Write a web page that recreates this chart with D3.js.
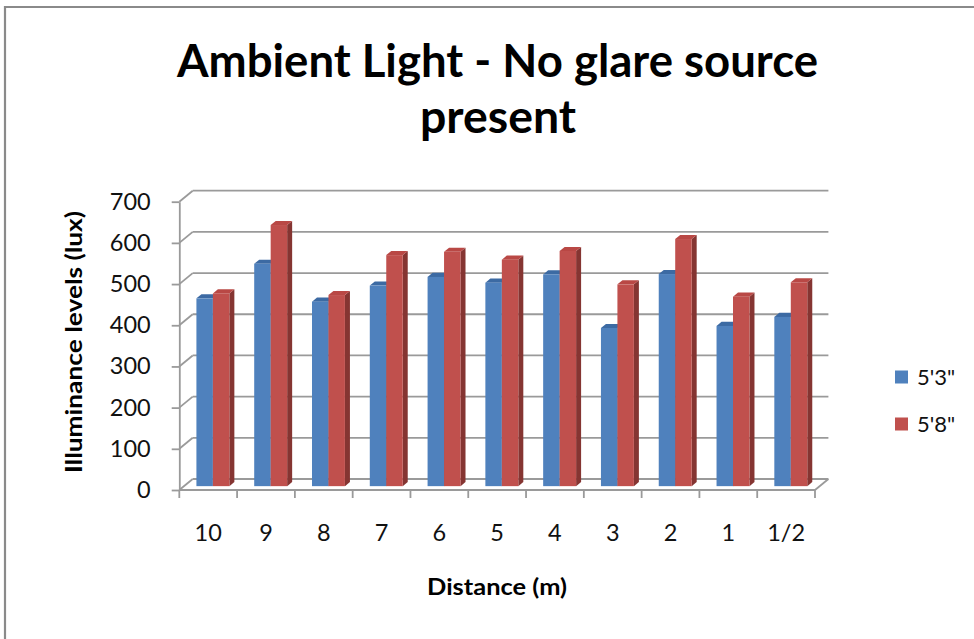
<!DOCTYPE html>
<html>
<head>
<meta charset="utf-8">
<script src="https://cdn.jsdelivr.net/npm/d3@7"></script>
<style>
  html, body { margin: 0; padding: 0; background: #fff; }
  svg { display: block; }
</style>
</head>
<body>
<svg id="chart" width="974" height="639"></svg>
<script>
// ---- data ----
const categories = ["10", "9", "8", "7", "6", "5", "4", "3", "2", "1", "1/2"];
const seriesNames = ["5'3\"", "5'8\""];
const values53 = [456, 540, 448, 487, 508, 494, 514, 384, 515, 389, 411];
const values58 = [468, 634, 464, 561, 569, 550, 571, 490, 600, 460, 495];
const yTicks = [0, 100, 200, 300, 400, 500, 600, 700];
const titleLines = ["Ambient Light - No glare source", "present"];
const yTitle = "Illuminance levels (lux)";
const xTitle = "Distance (m)";
const colors = {
  "5'3\"": { front: "#4F81BD", top: "#3C6AA3", side: "#2F5482" },
  "5'8\"": { front: "#C0504D", top: "#B94845", side: "#853532" }
};

// ---- layout ----
const svg = d3.select("#chart");
const left = 179.3, right = 815, base = 490, topY = 201.7;
const D = { x: 13.4, y: -11 };          // depth vector front->back wall
const f = 0.35;                          // bar front face depth fraction
const B = { x: 5, y: -4.1 };             // bar depth
const font = "Lato, 'Open Sans', sans-serif";
const grid = "#9a9a9a";

const x = d3.scaleBand().domain(categories).range([left, right]).paddingInner(0).paddingOuter(0);
const bw = x.bandwidth();
const xs = d3.scaleBand().domain(seriesNames).range([bw * 0.215, bw * 0.785]);
const y = d3.scaleLinear().domain([0, 700]).range([base, topY]);

// frame
svg.append("path").attr("d", "M5,639 L5,7 L974,7")
  .attr("fill", "none").attr("stroke", "#8a8a8a").attr("stroke-width", 2.2);

// back wall gridlines + left wall diagonals
const g = svg.append("g");
yTicks.forEach(v => {
  g.append("line").attr("x1", left + D.x).attr("x2", right + D.x)
    .attr("y1", y(v) + D.y).attr("y2", y(v) + D.y)
    .attr("stroke", grid).attr("stroke-width", 1.8);
  g.append("line").attr("x1", left).attr("x2", left + D.x)
    .attr("y1", y(v)).attr("y2", y(v) + D.y)
    .attr("stroke", grid).attr("stroke-width", 1.8);
});
// floor front edge & right diagonal
g.append("line").attr("x1", left).attr("x2", right).attr("y1", base).attr("y2", base)
  .attr("stroke", grid).attr("stroke-width", 1.8);
g.append("line").attr("x1", right).attr("x2", right + D.x).attr("y1", base).attr("y2", base + D.y)
  .attr("stroke", grid).attr("stroke-width", 1.8);

// y axis (front vertical line + ticks + labels)
const yAxis = d3.axisLeft(y).tickValues(yTicks).tickSize(7.6).tickSizeOuter(0).tickPadding(21);
const ya = svg.append("g").attr("transform", `translate(${left},0)`).call(yAxis);
ya.selectAll("path, line").attr("stroke", grid).attr("stroke-width", 1.8);
ya.selectAll("text").attr("font-family", font).attr("font-size", 23.5).attr("fill", "#111");

// x axis ticks at band boundaries
const bounds = categories.map(c => x(c)).concat([right]);
bounds.forEach(bx => {
  svg.append("line").attr("x1", bx).attr("x2", bx).attr("y1", base).attr("y2", base + 8)
    .attr("stroke", grid).attr("stroke-width", 1.8);
});
categories.forEach(c => {
  svg.append("text").attr("x", x(c) + bw / 2).attr("y", 533).attr("dy", "0.35em")
    .attr("text-anchor", "middle").attr("font-family", font).attr("font-size", 23.5)
    .attr("fill", "#111").text(c);
});

// bars
const rows = categories.map((c, i) => ({ cat: c, vals: [values53[i], values58[i]] }));
const barG = svg.append("g");
rows.forEach(r => {
  r.vals.forEach((v, si) => {
    const s = seriesNames[si];
    const w = xs.bandwidth();
    const x0 = x(r.cat) + xs(s) + f * D.x;
    const yt = y(v) + f * D.y;
    const yb = y(0) + f * D.y;
    const col = colors[s];
    barG.append("polygon")
      .attr("points", [[x0 + w, yt], [x0 + w + B.x, yt + B.y], [x0 + w + B.x, yb + B.y], [x0 + w, yb]].join(" "))
      .attr("fill", col.side);
    barG.append("polygon")
      .attr("points", [[x0, yt], [x0 + B.x, yt + B.y], [x0 + w + B.x, yt + B.y], [x0 + w, yt]].join(" "))
      .attr("fill", col.top);
    barG.append("rect").attr("x", x0).attr("y", yt).attr("width", w).attr("height", yb - yt)
      .attr("fill", col.front);
  });
});

// title
svg.append("text").attr("x", 497.5).attr("y", 77).attr("text-anchor", "middle")
  .attr("font-family", font).attr("font-weight", "bold").attr("font-size", 45)
  .attr("textLength", 641).attr("lengthAdjust", "spacingAndGlyphs")
  .attr("fill", "#000").text(titleLines[0]);
svg.append("text").attr("x", 498).attr("y", 133).attr("text-anchor", "middle")
  .attr("font-family", font).attr("font-weight", "bold").attr("font-size", 45)
  .attr("textLength", 156).attr("lengthAdjust", "spacingAndGlyphs")
  .attr("fill", "#000").text(titleLines[1]);

// axis titles
svg.append("text").attr("transform", "translate(82,342) rotate(-90)").attr("text-anchor", "middle")
  .attr("font-family", font).attr("font-weight", "bold").attr("font-size", 23)
  .attr("textLength", 262).attr("lengthAdjust", "spacingAndGlyphs")
  .attr("fill", "#000").text(yTitle);
svg.append("text").attr("x", 497).attr("y", 595).attr("text-anchor", "middle")
  .attr("font-family", font).attr("font-weight", "bold").attr("font-size", 23)
  .attr("textLength", 140).attr("lengthAdjust", "spacingAndGlyphs")
  .attr("fill", "#000").text(xTitle);

// legend
const legY = [377, 424];
seriesNames.forEach((s, i) => {
  svg.append("rect").attr("x", 895).attr("y", legY[i] - 6.5).attr("width", 13).attr("height", 13)
    .attr("fill", colors[s].front);
  svg.append("text").attr("x", 917).attr("y", legY[i]).attr("dy", "0.35em")
    .attr("font-family", font).attr("font-size", 22).attr("fill", "#111").text(s);
});
</script>
</body>
</html>
